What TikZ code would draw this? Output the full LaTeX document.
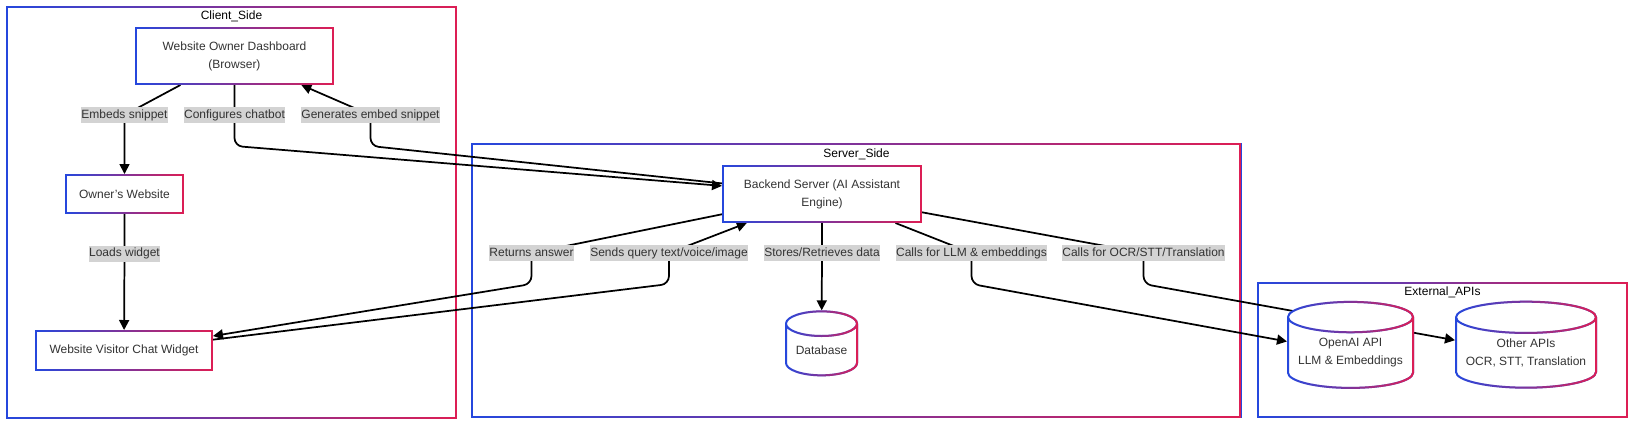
\documentclass[tikz,border=0pt]{standalone}
\usepackage{fontspec}
\setmainfont{Liberation Sans}
\usetikzlibrary{positioning,shapes.geometric,arrows.meta,fadings,backgrounds,calc}
\definecolor{gblue}{RGB}{37,72,222}
\definecolor{gred}{RGB}{222,30,84}
\definecolor{labelgray}{RGB}{211,211,211}
\definecolor{txt}{RGB}{51,51,51}
\tikzfading[name=toright, left color=transparent!100, right color=transparent!0]
\pgfdeclarelayer{edges}
\pgfsetlayers{background,edges,main}

\begin{document}
\begin{tikzpicture}[x=0.75pt, y=-0.75pt, font=\fontsize{9pt}{13.5pt}\selectfont,
  grad/.style={draw=gblue, line width=1.5pt, postaction={draw=gred, line width=1.5pt, path fading=toright}},
  box/.style={grad, fill=white, text=txt, align=center, inner sep=0pt},
  db/.style={grad, fill=white, text=txt, align=center, cylinder, shape border rotate=90, inner sep=0pt},
  lbl/.style={fill=labelgray, text=txt, inner xsep=0pt, inner ysep=1pt, text height=7.5pt, text depth=2.5pt},
  edge/.style={line width=1.3pt, -{Triangle[length=7.5pt,width=7.5pt]}, rounded corners=6pt}]
  \useasboundingbox (0,0) rectangle (1636,426);

  % groups
  \begin{pgfonlayer}{background}
    \draw[grad] (7,7) rectangle (456,418);
    \draw[grad] (472,144) rectangle (1241,417);
    \draw[grad] (1258,283) rectangle (1627,417);
  \end{pgfonlayer}
  \node (tClient) at (231.5,16) {Client\_Side};
  \node (tServer) at (856.5,154) {Server\_Side};
  \node (tExt) at (1442.5,292) {External\_APIs};

  % client side
  \node[box, minimum width=147.75pt, minimum height=42pt] at (234.5,56) (dash) {Website Owner Dashboard\\(Browser)};
  \node[box, minimum width=87.75pt, minimum height=28.5pt] at (124.5,194) (owner) {Owner's Website};
  \node[box, minimum width=132pt, minimum height=29.25pt] at (124,350.5) (widget) {Website Visitor Chat Widget};

  % server side
  \node[box, minimum width=148.5pt, minimum height=42pt] at (822,194) (backend) {Backend Server (AI Assistant\\Engine)};
  \node[db, minimum width=53.25pt, minimum height=48pt, aspect=0.48] at (821.5,350) (database) {Database};

  % external apis
  \node[db, minimum width=93.75pt, minimum height=64.5pt, aspect=0.29] at (1350.5,353) (openai) {OpenAI API\\LLM \& Embeddings};
  \node[db, minimum width=105pt, minimum height=64.5pt, aspect=0.26] at (1526,353) (other) {Other APIs\\OCR, STT, Translation};

  % edge labels
  \node[lbl] at (124.5,115) (lEmbed) {Embeds snippet};
  \node[lbl] at (234.5,115) (lConf) {Configures chatbot};
  \node[lbl] at (370.5,115) (lGen) {Generates embed snippet};
  \node[lbl] at (124.5,253.5) (lLoad) {Loads widget};
  \node[lbl] at (531.5,253) (lRet) {Returns answer};
  \node[lbl] at (669,253) (lSend) {Sends query text/voice/image};
  \node[lbl] at (822,253) (lStore) {Stores/Retrieves data};
  \node[lbl] at (971.5,253) (lLLM) {Calls for LLM \& embeddings};
  \node[lbl] at (1143.5,253) (lOCR) {Calls for OCR/STT/Translation};

  \begin{pgfonlayer}{edges}
    \draw[edge] (dash) -- (lEmbed.center) -- (owner);
    \draw[edge] (dash) -- (lConf.center) -- ++(0,31) -- (backend);
    \draw[edge] (backend) -- ($(lGen.center)+(0,31)$) -- (lGen.center) -- (dash);
    \draw[edge] (owner) -- (lLoad.center) -- (widget);
    \draw[edge] (backend) -- (lRet.center) -- ++(0,31) -- (widget);
    \draw[edge] (widget) -- ($(lSend.center)+(0,31)$) -- (lSend.center) -- (backend);
    \draw[edge] (backend) -- (lStore.center) -- (database);
    \draw[edge] (backend) -- (lLLM.center) -- ++(0,31) -- (openai);
    \draw[edge] (backend) -- (lOCR.center) -- ++(0,31) -- (other);
  \end{pgfonlayer}
\end{tikzpicture}
\end{document}
